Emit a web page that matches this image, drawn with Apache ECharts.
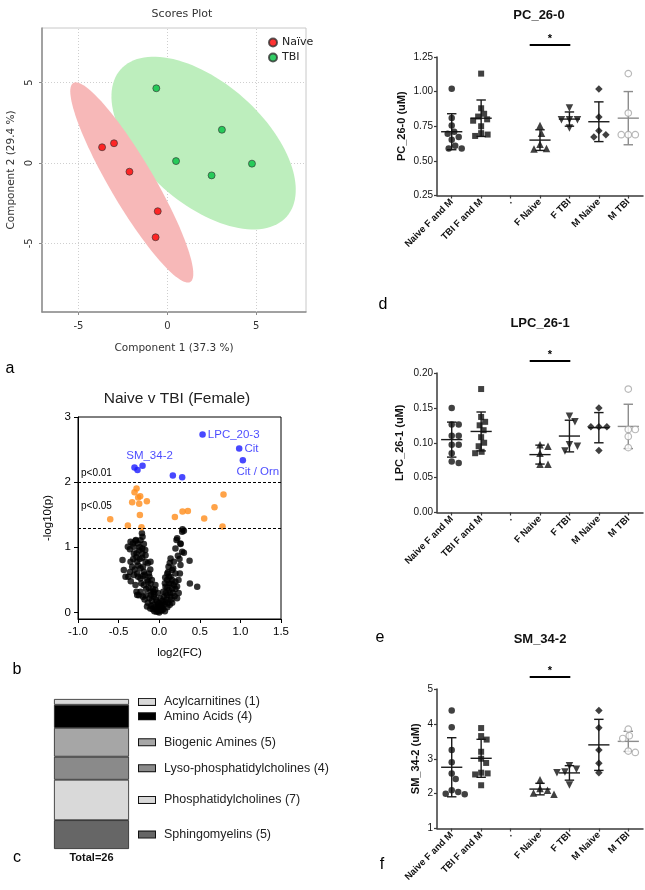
<!DOCTYPE html>
<html><head><meta charset="utf-8">
<script src="https://cdn.jsdelivr.net/npm/echarts@6/dist/echarts.min.js"></script>
<style>html,body{margin:0;padding:0;background:#fff}#c{width:645px;height:890px}</style>
</head><body><div id="c"></div>
<script>
// ================= DATA =================
// (a) PCA scores
const naiveScores = [[-3.67,0.98],[-3.0,1.23],[-2.13,-0.54],[-0.54,-3.0],[-0.66,-4.62]];
const tbiScores = [[-0.62,4.65],[3.07,2.07],[0.49,0.12],[2.49,-0.77],[4.76,-0.04]];
// confidence ellipses: centre x, centre y, semi-axis u (x,y), semi-axis v (x,y)
const naiveEllipse = [-2.0,-1.21, 3.29,-6.19, -1.07,-0.69];
const tbiEllipse = [2.04,1.24, 4.67,-4.58, -2.25,-2.81];
const scoreTicks = [-5,0,5];

// (b) volcano plot  [log2(FC), -log10(p)]
const volcanoBlack = [
[-0.213,1.215],[-0.205,1.164],[-0.23,1.11],[-0.292,1.10],[-0.325,1.06],[-0.263,1.06],[-0.189,1.05],[-0.353,1.087],[-0.287,1.113],[-0.209,0.983],[-0.312,1.01],[-0.361,0.97],[-0.386,1.01],[-0.312,0.907],[-0.209,0.907],[-0.168,0.88],[-0.279,0.908],[-0.172,0.959],[-0.25,0.95],[-0.24,1.0],[-0.24,0.82],[-0.21,0.84],[-0.28,0.85],[-0.32,0.82],
[-0.452,0.805],[-0.353,0.78],[-0.271,0.78],[-0.168,0.78],[-0.107,0.78],[-0.14,0.754],[-0.436,0.651],[-0.333,0.70],[-0.23,0.677],[-0.189,0.626],[-0.127,0.6],[-0.271,0.6],[-0.36,0.62],[-0.30,0.66],[-0.26,0.72],[-0.20,0.70],[-0.11,0.66],[-0.415,0.549],[-0.312,0.574],[-0.38,0.55],[-0.23,0.523],[-0.26,0.55],[-0.2,0.56],[-0.18,0.58],[-0.12,0.55],[-0.148,0.497],[-0.09,0.50],[-0.14,0.472],[-0.35,0.48],[-0.22,0.45],[-0.292,0.42],[-0.189,0.42],[-0.107,0.446],[-0.046,0.42],
[-0.16,0.36],[-0.13,0.38],[-0.08,0.36],[-0.07,0.32],[-0.05,0.35],[-0.23,0.32],[-0.28,0.32],[-0.107,0.318],[-0.25,0.266],[-0.271,0.267],[-0.168,0.266],[-0.1,0.27],[-0.066,0.24],[-0.2,0.24],[-0.06,0.28],[-0.12,0.22],[-0.18,0.2],[-0.04,0.2],[-0.09,0.18],[-0.14,0.15],[-0.025,0.164],[-0.07,0.12],[-0.02,0.12],[-0.10,0.10],[-0.15,0.09],[-0.05,0.08],[-0.005,0.087],[-0.11,0.06],[-0.08,0.05],[-0.03,0.05],[-0.06,0.02],[-0.01,0.02],[-0.033,0.01],[0.016,0.036],[0.0,0.14],[0.015,0.22],[-0.015,0.3],
[0.287,1.277],[0.304,1.256],[0.283,1.24],[0.221,1.138],[0.213,1.113],[0.262,1.06],[0.263,1.051],[0.2,0.983],[0.283,0.933],[0.304,0.918],[0.374,0.795],[0.14,0.83],[0.23,0.87],[0.25,0.82],[0.18,0.78],[0.262,0.728],[0.13,0.76],[0.115,0.703],[0.172,0.677],[0.16,0.651],[0.11,0.62],[0.099,0.6],[0.2,0.6],[0.255,0.6],[0.139,0.549],[0.12,0.55],[0.074,0.538],[0.16,0.5],[0.098,0.497],[0.238,0.497],[0.2,0.472],[0.147,0.446],[0.378,0.446],[0.12,0.45],[0.07,0.45],[0.468,0.395],[0.22,0.4],[0.078,0.395],[0.18,0.42],[0.1,0.38],[0.16,0.369],[0.2,0.36],[0.119,0.344],[0.05,0.32],[0.13,0.3],[0.17,0.3],[0.24,0.3],[0.08,0.3],[0.098,0.266],[0.19,0.25],[0.057,0.24],[0.139,0.24],[0.22,0.22],[0.09,0.2],[0.04,0.18],[0.15,0.2],[0.078,0.164],[0.11,0.15],[0.16,0.15],[0.036,0.138],[0.06,0.12],[0.13,0.12],[0.02,0.1],[0.03,0.08],[0.1,0.08],[0.05,0.05],[0.01,0.05],[0.03,0.03],[0.07,0.02],[0.0,0.0]
];
const volcanoOrange = [[-0.279,1.903],[-0.304,1.846],[-0.259,1.764],[-0.234,1.785],[-0.333,1.692],[-0.246,1.667],[-0.152,1.708],[-0.238,1.497],[-0.603,1.431],[-0.386,1.333],[-0.218,1.308],[0.287,1.549],[0.353,1.559],[0.193,1.467],[0.554,1.441],[0.681,1.615],[0.792,1.81],[0.78,1.318]];
const volcanoBlue = [[0.534,2.733],[0.985,2.518],[1.03,2.338],[-0.304,2.226],[-0.267,2.185],[-0.205,2.251],[0.168,2.103],[0.283,2.077]];
const blueNames = ['LPC_20-3','Cit','Cit / Orn','','','SM_34-2','',''];
const volcanoYTicks = [0,1,2,3];
const pThresholds = [2, 1.3];
const pLabels = ['p<0.01','p<0.05'];

// (c) metabolite classes (top to bottom)
const classNames = ['Acylcarnitines (1)','Amino Acids (4)','Biogenic Amines (5)','Lyso-phosphatidylcholines (4)','Phosphatidylcholines (7)','Sphingomyelins (5)'];
const classCounts = [1,4,5,4,7,5];
const classTotal = 'Total=26';

// (d-f) dot plots
const groupNames = ['Naive F and M','TBI F and M','.','F Naive','F TBI','M Naive','M TBI'];
const groupSlots = [0,1,3,4,5,6];
const pc26_0 = [
  [1.02,0.81,0.755,0.71,0.695,0.672,0.652,0.61,0.59,0.59],
  [1.13,0.88,0.84,0.82,0.80,0.79,0.75,0.70,0.69,0.68],
  [0.755,0.70,0.62,0.59,0.585],
  [0.881,0.797,0.797,0.797,0.737],
  [1.019,0.816,0.717,0.689,0.672],
  [1.13,0.845,0.689,0.689,0.689]
];
const lpc26_1 = [
  [0.150,0.126,0.126,0.110,0.110,0.097,0.097,0.085,0.073,0.071],
  [0.177,0.137,0.130,0.125,0.118,0.108,0.100,0.095,0.087,0.085],
  [0.097,0.095,0.085,0.069,0.069],
  [0.138,0.130,0.097,0.095,0.088],
  [0.150,0.123,0.123,0.123,0.089],
  [0.177,0.119,0.119,0.109,0.093]
];
const sm34_2 = [
  [4.38,3.90,3.25,2.90,2.58,2.42,2.10,2.05,2.00,1.98],
  [3.88,3.65,3.55,3.20,3.00,2.88,2.60,2.58,2.55,2.24],
  [2.40,2.15,2.10,2.02,1.98],
  [2.80,2.70,2.62,2.60,2.25],
  [4.38,3.89,3.25,2.87,2.60],
  [3.85,3.66,3.58,3.22,3.18]
];
const sigPair = [3,4];

// ================= CHART =================
const FA = 'Liberation Sans, Arial, sans-serif';
const FD = 'DejaVu Sans, Verdana, sans-serif';
const chart = echarts.init(document.getElementById('c'), null, {renderer:'canvas'});

const grids = [
  {left:42, top:28, width:264, height:284, show:true, borderColor:'#c8c8c8', borderWidth:1},
  {left:78, top:417, width:203, height:202, show:true, borderColor:'#000', borderWidth:1},
  {left:54, top:699, width:75, height:150},
  {left:437, top:57, width:206, height:138.5},
  {left:437, top:373, width:206, height:139.5},
  {left:437, top:689, width:206, height:139.5}
];

const xAxes = [
  {gridIndex:0, type:'value', min:-7.05, max:7.8,
   axisLine:{show:true, onZero:false, lineStyle:{color:'#8c8c8c', width:1.5}},
   axisTick:{show:true, length:3, customValues:scoreTicks, lineStyle:{color:'#8c8c8c'}},
   axisLabel:{customValues:scoreTicks, fontSize:10, fontFamily:FD, color:'#333', margin:9},
   splitLine:{show:false},
   name:'Component 1 (37.3 %)', nameLocation:'middle', nameGap:31,
   nameTextStyle:{fontSize:10.5, fontFamily:FD, color:'#333'}},
  {gridIndex:1, type:'value', min:-1, max:1.5, interval:0.5,
   axisLine:{show:true, onZero:false, lineStyle:{color:'#000', width:1}},
   axisTick:{show:true, length:4, lineStyle:{color:'#000'}},
   axisLabel:{formatter:v=>v.toFixed(1), fontSize:11.5, fontFamily:FA, color:'#000', margin:7},
   splitLine:{show:false},
   name:'log2(FC)', nameLocation:'middle', nameGap:28,
   nameTextStyle:{fontSize:11.5, fontFamily:FA, color:'#000'}},
  {gridIndex:2, type:'category', data:[classTotal],
   axisLine:{show:false}, axisTick:{show:false},
   axisLabel:{fontSize:11, fontWeight:'bold', fontFamily:FA, color:'#111', margin:3}}
];
const yAxes = [
  {gridIndex:0, type:'value', min:-9.27, max:8.4,
   axisLine:{show:true, onZero:false, lineStyle:{color:'#8c8c8c', width:1.5}},
   axisTick:{show:true, length:3, customValues:scoreTicks, lineStyle:{color:'#8c8c8c'}},
   axisLabel:{customValues:scoreTicks, rotate:90, fontSize:10, fontFamily:FD, color:'#333', margin:8},
   splitLine:{show:false},
   name:'Component 2 (29.4 %)', nameLocation:'middle', nameGap:25,
   nameTextStyle:{fontSize:10.5, fontFamily:FD, color:'#333'}},
  {gridIndex:1, type:'value', min:-0.1, max:3,
   axisLine:{show:true, onZero:false, lineStyle:{color:'#000', width:1}},
   axisTick:{show:true, length:4, customValues:volcanoYTicks, lineStyle:{color:'#000'}},
   axisLabel:{customValues:volcanoYTicks, fontSize:11.5, fontFamily:FA, color:'#000', margin:7},
   splitLine:{show:false},
   name:'-log10(p)', nameLocation:'middle', nameGap:24,
   nameTextStyle:{fontSize:11.5, fontFamily:FA, color:'#000'}},
  {gridIndex:2, type:'value', min:0, max:26, show:false}
];

const series = [];
// ---- (a) scores ----
function ellipse(params, color, z){
  return {type:'custom', xAxisIndex:0, yAxisIndex:0, z:z, silent:true, clip:true,
    encode:{x:0, y:1}, data:[params],
    renderItem:function(p, api){
      const e = params, pts = [];
      for(let i=0;i<120;i++){
        const t = i/120*Math.PI*2, c = Math.cos(t), s = Math.sin(t);
        pts.push(api.coord([e[0]+e[2]*c+e[4]*s, e[1]+e[3]*c+e[5]*s]));
      }
      return {type:'polygon', shape:{points:pts}, style:{fill:color}};
    }};
}
series.push(ellipse(tbiEllipse, '#bdeebd', 1));
series.push(ellipse(naiveEllipse, '#f7b8b8', 1.1));
series.push({type:'scatter', name:'Naïve', xAxisIndex:0, yAxisIndex:0, z:3,
  data:naiveScores, symbolSize:7,
  itemStyle:{color:'#ff0000', borderColor:'#333', borderWidth:0.8},
  markLine:{z:0.5, silent:true, symbol:'none', animation:false, label:{show:false},
    lineStyle:{type:[1,2], color:'#cfcfcf', width:1},
    data:scoreTicks.map(v=>({xAxis:v})).concat(scoreTicks.map(v=>({yAxis:v})))}});
series.push({type:'scatter', name:'TBI', xAxisIndex:0, yAxisIndex:0, z:3,
  data:tbiScores, symbolSize:7,
  itemStyle:{color:'#00c040', borderColor:'#333', borderWidth:0.8}});

// ---- (b) volcano ----
series.push({type:'scatter', xAxisIndex:1, yAxisIndex:1, z:3, data:volcanoBlack, symbolSize:6.5,
  itemStyle:{color:'#000'},
  markLine:{silent:true, symbol:'none', animation:false, label:{show:false},
    lineStyle:{type:[3,2], color:'#000', width:1},
    data:pThresholds.map(v=>({yAxis:v}))}});
series.push({type:'scatter', xAxisIndex:1, yAxisIndex:1, z:3, data:volcanoOrange, symbolSize:6.5,
  itemStyle:{color:'#ff8c1a'}});
const blueLabelStyle = {
  'LPC_20-3':{position:'right', distance:2},
  'Cit':{position:'right', distance:2},
  'Cit / Orn':{position:'bottom', distance:2, offset:[15,0]},
  'SM_34-2':{position:'top', distance:1, offset:[7,0]}
};
series.push({type:'scatter', xAxisIndex:1, yAxisIndex:1, z:4, symbolSize:6.5,
  itemStyle:{color:'#1a1aff'},
  data:volcanoBlue.map((d,i)=>{
    const n = blueNames[i];
    const item = {value:d};
    if(n){ item.label = Object.assign({show:true, formatter:n, color:'#1a1aff', fontSize:11.5, fontFamily:FA}, blueLabelStyle[n]); }
    return item;
  })});

// ---- (c) class stacked bar ----
const classColors = ['#d9d9d9','#000000','#a6a6a6','#8a8a8a','#d9d9d9','#666666'];
for(let i=classNames.length-1;i>=0;i--){
  series.push({type:'bar', xAxisIndex:2, yAxisIndex:2, stack:'cls', barWidth:'100%',
    data:[classCounts[i]],
    itemStyle:{color:classColors[i], borderColor:'#222', borderWidth:0.8},
    label:{show:true, position:'right', distance:10,
      formatter:'{s|}{t|'+classNames[i]+'}',
      rich:{s:{width:16, height:6, backgroundColor:classColors[i], borderColor:'#111', borderWidth:1},
            t:{fontSize:12.5, fontFamily:FA, color:'#222', padding:[0,0,0,9]}}}});
}

// ---- (d-f) dot plots ----
const SLOT_STYLE = {
  0:{symbol:'circle', size:6.5, color:'#111'},
  1:{symbol:'rect', size:6, color:'#111'},
  3:{symbol:'triangle', size:7.5, color:'#111'},
  4:{symbol:'triangle', size:7.5, color:'#111', rotate:180},
  5:{symbol:'diamond', size:7.5, color:'#111'},
  6:{symbol:'circle', size:6.5, color:'#fff', border:'#a6a6a6'}
};
function swarm(vals, pxPerUnit, bandPx, size){
  const order = vals.map((v,i)=>i).sort((a,b)=>vals[b]-vals[a]);
  const placed = [], off = new Array(vals.length).fill(0);
  for(const i of order){
    const y = vals[i]*pxPerUnit;
    for(let k=0;k<400;k++){
      const dx = (k%2===1?1:-1)*Math.ceil(k/2)*0.5;
      let ok = true;
      for(const p of placed){ if(Math.hypot(p[0]-dx, p[1]-y) < size){ ok=false; break; } }
      if(ok){ placed.push([dx,y]); off[i] = dx/bandPx; break; }
    }
  }
  return off;
}
const mean = a => a.reduce((s,v)=>s+v,0)/a.length;
const sd = a => { const m = mean(a); return Math.sqrt(a.reduce((s,v)=>s+(v-m)*(v-m),0)/(a.length-1)); };

const panels = [
  {vals:pc26_0, min:0.25, max:1.25, interval:0.25, name:'PC_26-0 (uM)', gap:30, dec:2},
  {vals:lpc26_1, min:0, max:0.2, interval:0.05, name:'LPC_26-1 (uM)', gap:32, dec:2},
  {vals:sm34_2, min:1, max:5, interval:1, name:'SM_34-2 (uM)', gap:16, dec:0}
];
const AX = '#3a3a3a';
panels.forEach((P, k)=>{
  const gi = 3+k, g = grids[gi];
  const catIdx = xAxes.length;
  xAxes.push({gridIndex:gi, type:'category', data:groupNames, boundaryGap:true,
    axisLine:{show:true, onZero:false, lineStyle:{color:AX, width:1.5}},
    axisTick:{show:true, alignWithLabel:true, length:3, lineStyle:{color:AX, width:1.2}},
    axisLabel:{interval:0, rotate:45, fontSize:9.5, fontWeight:'bold', fontFamily:FA, color:'#111', margin:5}});
  const valIdx = xAxes.length;
  xAxes.push({gridIndex:gi, type:'value', min:-0.5, max:6.5, show:false});
  const yIdx = yAxes.length;
  yAxes.push({gridIndex:gi, type:'value', min:P.min, max:P.max, interval:P.interval,
    axisLine:{show:true, onZero:false, lineStyle:{color:AX, width:1.5}},
    axisTick:{show:true, length:3, lineStyle:{color:AX, width:1.2}},
    axisLabel:{formatter:v=>v.toFixed(P.dec), fontSize:10, fontFamily:FA, color:'#111', margin:4},
    splitLine:{show:false},
    name:P.name, nameLocation:'middle', nameGap:P.gap,
    nameTextStyle:{fontSize:11, fontWeight:'bold', fontFamily:FA, color:'#111'}});
  const pxPerUnit = g.height/(P.max-P.min), bandPx = g.width/7;
  // mean +/- SD
  series.push({type:'custom', xAxisIndex:valIdx, yAxisIndex:yIdx, z:2, silent:true, clip:false,
    encode:{x:0, y:1},
    data:P.vals.map((a,j)=>[groupSlots[j], mean(a), sd(a), groupSlots[j]]),
    renderItem:function(params, api){
      const x = api.value(0), m = api.value(1), s = api.value(2), slot = api.value(3);
      const col = slot===6 ? '#8c8c8c' : '#1a1a1a';
      const c = api.coord([x,m]), t = api.coord([x,m+s]), b = api.coord([x,m-s]);
      const hw = api.size([0.36,0])[0], cw = api.size([0.16,0])[0];
      const st = {stroke:col, lineWidth:1.4};
      return {type:'group', children:[
        {type:'line', shape:{x1:c[0]-hw, y1:c[1], x2:c[0]+hw, y2:c[1]}, style:st},
        {type:'line', shape:{x1:c[0], y1:t[1], x2:c[0], y2:b[1]}, style:st},
        {type:'line', shape:{x1:c[0]-cw, y1:t[1], x2:c[0]+cw, y2:t[1]}, style:st},
        {type:'line', shape:{x1:c[0]-cw, y1:b[1], x2:c[0]+cw, y2:b[1]}, style:st}
      ]};
    }});
  // points
  P.vals.forEach((a,j)=>{
    const slot = groupSlots[j], S = SLOT_STYLE[slot];
    const off = swarm(a, pxPerUnit, bandPx, S.size+0.2);
    series.push({type:'scatter', xAxisIndex:valIdx, yAxisIndex:yIdx, z:3,
      symbol:S.symbol, symbolSize:S.size, symbolRotate:S.rotate||0,
      itemStyle:S.border ? {color:S.color, borderColor:S.border, borderWidth:1.2} : {color:S.color},
      data:a.map((v,i)=>[slot+off[i], v])});
  });
  // significance bar
  series.push({type:'custom', xAxisIndex:valIdx, yAxisIndex:yIdx, z:3, silent:true, clip:false,
    encode:{x:[0,1], y:2},
    data:[[sigPair[0]-0.35, sigPair[1]+0.03, P.max]],
    renderItem:function(params, api){
      const p1 = api.coord([api.value(0), api.value(2)]), p2 = api.coord([api.value(1), api.value(2)]);
      const y = p1[1]-12, xm = (p1[0]+p2[0])/2;
      return {type:'group', children:[
        {type:'line', shape:{x1:p1[0], y1:y, x2:p2[0], y2:y}, style:{stroke:'#000', lineWidth:2}},
        {type:'text', x:xm, y:y-6, style:{text:'*', fill:'#000', font:'bold 11px '+FA,
          align:'center', verticalAlign:'middle', textAlign:'center', textVerticalAlign:'middle'}}
      ]};
    }});
});

function txt(x, y, text, font, color, align){
  return {type:'text', x:x, y:y, silent:true,
    style:{text:text, font:font, fill:color||'#000', align:align||'center', verticalAlign:'middle',
      textAlign:align||'center', textVerticalAlign:'middle'}};
}
const graphics = [
  txt(182, 14, 'Scores Plot', '11px '+FD, '#333'),
  txt(177, 399, 'Naive v TBI (Female)', '15.5px '+FA, '#222'),
  txt(81, 473, pLabels[0], '10px '+FA, '#000', 'left'),
  txt(81, 506, pLabels[1], '10px '+FA, '#000', 'left'),
  txt(539, 15, 'PC_26-0', 'bold 13px '+FA, '#111'),
  txt(540, 323, 'LPC_26-1', 'bold 13px '+FA, '#111'),
  txt(540, 639, 'SM_34-2', 'bold 13px '+FA, '#111'),
  txt(10, 369, 'a', '16px '+FA, '#000'),
  txt(17, 670, 'b', '16px '+FA, '#000'),
  txt(17, 858, 'c', '16px '+FA, '#000'),
  txt(383, 305, 'd', '16px '+FA, '#000'),
  txt(380, 638, 'e', '16px '+FA, '#000'),
  txt(382, 865, 'f', '16px '+FA, '#000')
];

chart.setOption({
  animation:false,
  backgroundColor:'#fff',
  textStyle:{fontFamily:FA},
  grid:grids,
  xAxis:xAxes,
  yAxis:yAxes,
  legend:{data:['Naïve','TBI'], orient:'vertical', left:268, top:37, itemWidth:8, itemHeight:8, itemGap:4,
    icon:'circle', padding:0, selectedMode:false,
    textStyle:{fontFamily:FD, fontSize:11, color:'#222'}},
  graphic:graphics,
  series:series
});
</script>
</body></html>
